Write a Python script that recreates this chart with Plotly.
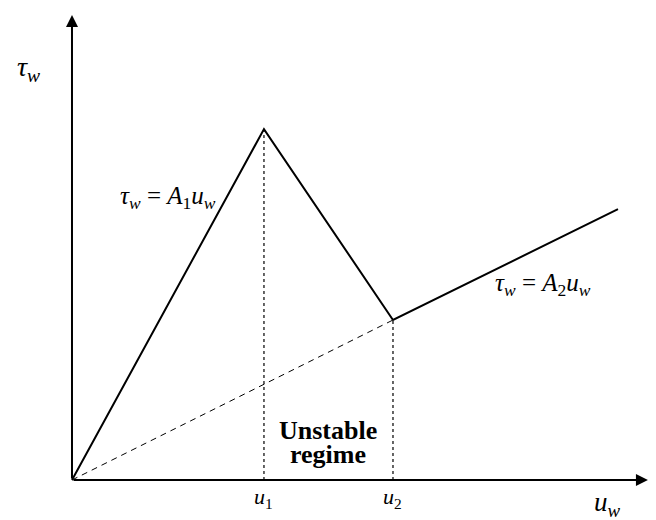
import plotly.graph_objects as go

# piecewise wall shear stress vs. wall velocity (arbitrary units, u1 = 1, peak = 1)
u_curve = [0.0, 1.0, 1.672, 2.844]
tau_curve = [0.0, 1.0, 0.456, 0.772]

# dashed extension of the second branch back to the origin
u_dash = [0.0, 1.672]
tau_dash = [0.0, 0.456]

u_ticks = [1.0, 1.672]
tick_labels = ["<i>u</i><sub>1</sub>", "<i>u</i><sub>2</sub>"]

x_axis_end = 3.0
y_axis_end = 1.325

SERIF = "Liberation Serif, DejaVu Serif, serif"

fig = go.Figure()

# dotted guides from the break points down to the axis
for u, t in [(u_curve[1], tau_curve[1]), (u_curve[2], tau_curve[2])]:
    fig.add_trace(go.Scatter(
        x=[u, u], y=[0, t], mode='lines',
        line=dict(color='black', width=1.2, dash='dot'),
        showlegend=False, hoverinfo='skip',
    ))

fig.add_trace(go.Scatter(
    x=u_dash, y=tau_dash, mode='lines',
    line=dict(color='black', width=1, dash='6px,5px'),
    showlegend=False, hoverinfo='skip',
))

fig.add_trace(go.Scatter(
    x=u_curve, y=tau_curve, mode='lines',
    line=dict(color='black', width=2),
    showlegend=False, hoverinfo='skip',
))

annotations = []
# axes with arrows
annotations.append(dict(x=x_axis_end, y=0, ax=0, ay=0, xref='x', yref='y',
                        axref='x', ayref='y', showarrow=True, arrowhead=2,
                        arrowsize=1.2, arrowwidth=2, arrowcolor='black', text=''))
annotations.append(dict(x=0, y=y_axis_end, ax=0, ay=0, xref='x', yref='y',
                        axref='x', ayref='y', showarrow=True, arrowhead=2,
                        arrowsize=1.2, arrowwidth=2, arrowcolor='black', text=''))

annotations.append(dict(x=-0.225, y=1.172, text="<i>τ</i><sub><i>w</i></sub>",
                        showarrow=False, font=dict(size=28, family=SERIF)))
annotations.append(dict(x=2.79, y=-0.068, text="<i>u</i><sub><i>w</i></sub>",
                        showarrow=False, font=dict(size=27, family=SERIF)))
for u, lab in zip(u_ticks, tick_labels):
    annotations.append(dict(x=u, y=-0.05, text=lab, showarrow=False,
                            font=dict(size=22, family=SERIF)))

annotations.append(dict(x=0.5, y=0.806,
                        text="<i>τ</i><sub><i>w</i></sub> = <i>A</i><sub>1</sub><i>u</i><sub><i>w</i></sub>",
                        showarrow=False, font=dict(size=25, family=SERIF)))
annotations.append(dict(x=2.453, y=0.556,
                        text="<i>τ</i><sub><i>w</i></sub> = <i>A</i><sub>2</sub><i>u</i><sub><i>w</i></sub>",
                        showarrow=False, font=dict(size=25, family=SERIF)))
annotations.append(dict(x=1.333, y=0.142, text="<b>Unstable</b>",
                        showarrow=False, font=dict(size=26, family=SERIF)))
annotations.append(dict(x=1.333, y=0.074, text="<b>regime</b>",
                        showarrow=False, font=dict(size=26, family=SERIF)))

fig.update_layout(
    width=656, height=520,
    margin=dict(l=0, r=0, t=0, b=0),
    plot_bgcolor='white', paper_bgcolor='white',
    font=dict(color='black', family=SERIF),
    annotations=annotations,
    xaxis=dict(range=[-0.375, 3.042], visible=False, fixedrange=True),
    yaxis=dict(range=[-0.114, 1.368], visible=False, fixedrange=True),
)

fig.write_html("out.html", config={'displayModeBar': False},
               post_script="document.body.style.margin='0';")
